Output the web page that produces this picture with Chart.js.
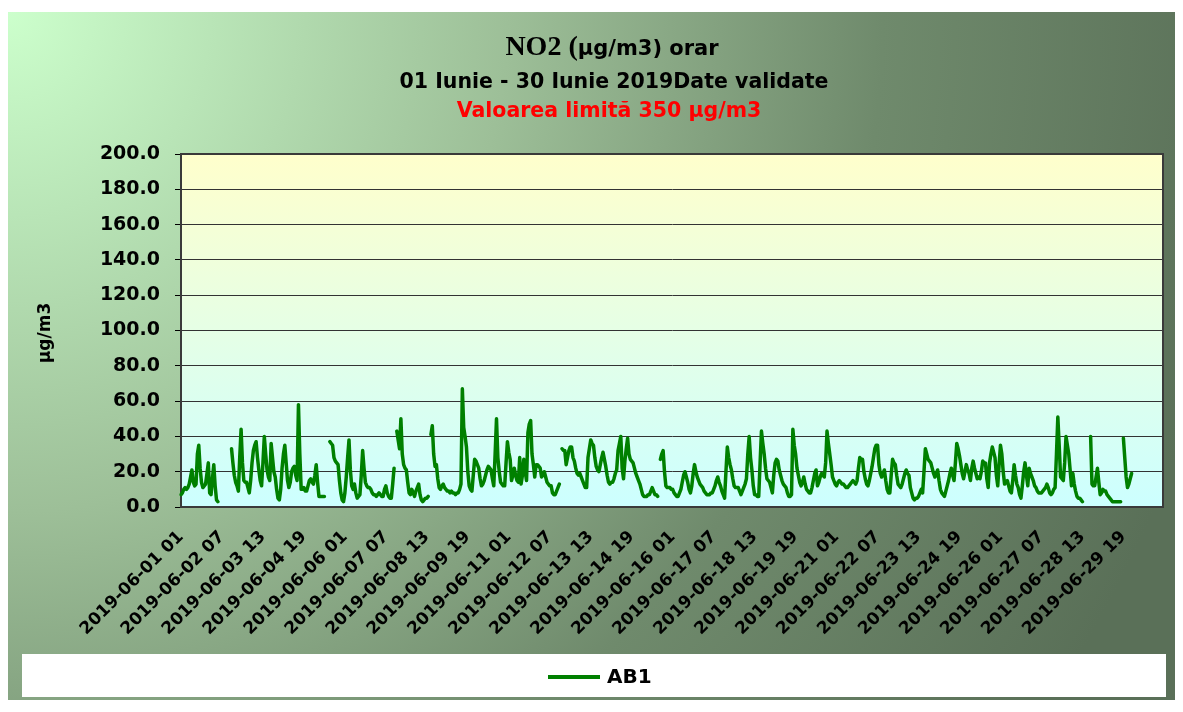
<!DOCTYPE html>
<html>
<head>
<meta charset="utf-8">
<script src="https://cdn.jsdelivr.net/npm/chart.js@4.4.0/dist/chart.umd.min.js"></script>
<style>
html, body { margin: 0; padding: 0; background: #fff; }
#chart { display: block; }
</style>
</head>
<body>
<canvas id="chart" width="1183" height="712"></canvas>
<script>
// hourly labels, 01..24 for every day of June 2019
var labels = [];
for (var d = 1; d <= 30; d++) {
    for (var h = 1; h <= 24; h++) {
        labels.push('2019-06-' + String(d).padStart(2, '0') + ' ' + String(h).padStart(2, '0'));
    }
}
var tickEvery = 30;
var yTicks = [0, 20, 40, 60, 80, 100, 120, 140, 160, 180, 200];

// NO2 hourly values, station AB1 (one row per day)
var ab1 = [
    7, 8, 10, 11, 10, 11, 13, 17, 21, 14, 12, 13, 30, 35, 22, 14, 11, 12, 13, 19, 25, 8, 7, 16,
    24, 12, 4, 3, null, null, null, null, null, null, null, null, null, 33, 25, 18, 14, 12, 9, 28, 44, 25, 15, 14,
    14, 11, 8, 15, 25, 32, 35, 37, 28, 21, 15, 12, 25, 40, 30, 21, 17, 15, 36, 28, 20, 17, 10, 5,
    4, 10, 22, 30, 35, 25, 15, 11, 14, 20, 22, 23, 18, 15, 58, 30, 10, 10, 11, 9, 9, 12, 15, 16,
    14, 13, 18, 24, 14, 6, 6, 6, 6, 6, null, null, null, 37, 36, 35, 28, 26, 25, 24, 15, 8, 4, 3,
    8, 17, 28, 38, 21, 12, 10, 13, 8, 5, 6, 7, 18, 32, 22, 14, 12, 11, 11, 10, 8, 7, 7, 6,
    7, 8, 7, 6, 6, 10, 12, 8, 6, 5, 5, 13, 22, null, 43, 38, 33, 50, 30, 24, 22, 21, 14, 8,
    7, 10, 8, 6, 9, 11, 13, 7, 4, 3, 4, 5, 5, 6, null, 41, 46, 30, 23, 24, 16, 11, 10, 12,
    13, 11, 10, 9, 9, 8, 9, 8, 8, 7, 8, 8, 10, 13, 67, 45, 40, 34, 20, 12, 10, 9, 18, 27,
    26, 24, 22, 16, 12, 13, 15, 18, 21, 23, 22, 21, 16, 12, 30, 50, 28, 20, 14, 13, 12, 12, 25, 37,
    31, 27, 15, 18, 22, 18, 15, 14, 28, 13, 18, 27, 20, 15, 42, 47, 49, 30, 24, 17, 24, 24, 23, 22,
    17, 18, 20, 17, 14, 13, 12, 12, 8, 7, 7, 9, 11, 13, null, 33, 32, 32, 24, 28, 32, 34, 34, 28,
    26, 22, 19, 18, 19, 17, 15, 13, 11, 11, 28, 33, 38, 36, 35, 28, 23, 21, 20, 24, 28, 31, 27, 23,
    18, 14, 13, 14, 14, 16, 19, 21, 32, 36, 40, 22, 16, 26, 33, 39, 30, 27, 26, 25, 22, 19, 17, 15,
    13, 10, 7, 6, 6, 6, 7, 7, 9, 11, 9, 7, 7, 6, null, 27, 30, 32, 20, 12, 11, 11, 11, 10,
    10, 8, 7, 6, 6, 8, 10, 14, 18, 20, 17, 14, 10, 8, 12, 19, 24, 20, 17, 15, 13, 12, 11, 9,
    8, 7, 7, 7, 8, 8, 10, 12, 15, 17, 14, 12, 9, 7, 5, 20, 34, 28, 24, 21, 16, 12, 11, 11,
    11, 9, 7, 9, 11, 13, 16, 30, 40, 28, 21, 12, 7, 7, 6, 6, 25, 43, 36, 30, 22, 16, 15, 14,
    11, 8, 18, 25, 27, 26, 21, 18, 15, 13, 12, 11, 8, 6, 6, 7, 44, 35, 30, 22, 18, 14, 12, 14,
    17, 13, 10, 9, 8, 8, 11, 15, 19, 21, 12, 14, 17, 19, 18, 17, 25, 43, 36, 30, 24, 17, 15, 13,
    12, 14, 15, 14, 13, 13, 12, 11, 11, 12, 13, 14, 15, 14, 13, 15, 22, 28, 27, 27, 20, 16, 13, 12,
    15, 19, 23, 28, 33, 35, 35, 24, 19, 17, 19, 21, 15, 10, 8, 8, 18, 27, 25, 24, 18, 13, 12, 11,
    13, 16, 19, 21, 19, 18, 11, 8, 5, 4, 5, 5, 6, 8, 10, 8, 20, 33, 30, 27, 26, 25, 22, 19,
    17, 19, 21, 15, 10, 8, 7, 6, 9, 12, 15, 19, 22, 18, 15, 25, 36, 33, 29, 24, 19, 16, 20, 24,
    21, 19, 15, 22, 26, 22, 19, 16, 17, 16, 20, 26, 25, 25, 16, 11, 25, 30, 34, 31, 28, 18, 12, 24,
    35, 30, 20, 13, 14, 15, 12, 9, 8, 15, 24, 18, 13, 11, 7, 5, 12, 20, 25, 18, 12, 22, 19, 17,
    15, 12, 11, 9, 8, 8, 8, 9, 10, 11, 13, 11, 8, 7, 8, 10, 11, 30, 51, 35, 17, 16, 15, 25,
    40, 35, 30, 21, 12, 19, 13, 9, 6, 5, 5, 4, 3, null, null, null, null, null, 40, 13, 12, 12, 17, 22,
    14, 7, 8, 10, 9, 9, 7, 6, 5, 4, 3, 3, 3, 3, 3, 3, 3, null, 39, 28, 17, 11, 13, 16,
    19, null, null, null, null, null, null, null, null, null, null, null, null, null, null, null, null, null, null, null, null, null, null, null
];

var sans = '"DejaVu Sans", "Liberation Sans", Arial, sans-serif';
var serif = '"Liberation Serif", "Times New Roman", serif';

var framePlugin = {
    id: 'frame',
    beforeDraw: function (chart) {
        var ctx = chart.ctx;
        var a = chart.chartArea;
        ctx.save();
        ctx.fillStyle = '#ffffff';
        ctx.fillRect(0, 0, chart.width, chart.height);
        // outer area, light green corner fading to dark grey green
        var g = ctx.createRadialGradient(8, 12, 0, 8, 12, 1250);
        g.addColorStop(0, '#ccffcc');
        g.addColorStop(0.4, '#9dbf98');
        g.addColorStop(0.7, '#6f8a6c');
        g.addColorStop(1, '#5a7058');
        ctx.fillStyle = g;
        ctx.fillRect(8, 12, 1167, 688);
        // plot area: yellow at the top, cyan at the bottom
        var p = ctx.createLinearGradient(0, a.top, 0, a.bottom);
        p.addColorStop(0, '#ffffcc');
        p.addColorStop(1, '#ccffff');
        ctx.fillStyle = p;
        ctx.fillRect(a.left, a.top, a.right - a.left, a.bottom - a.top);
        ctx.restore();
    },
    beforeDatasetsDraw: function (chart) {
        var ctx = chart.ctx;
        var a = chart.chartArea;
        ctx.save();
        ctx.strokeStyle = '#3a3a3a';
        ctx.lineWidth = 2;
        ctx.strokeRect(a.left, a.top, a.right - a.left, a.bottom - a.top);
        ctx.restore();
    },
    afterDraw: function (chart) {
        var ctx = chart.ctx;
        ctx.save();
        // title, line 1 in two fonts
        var t1 = 'NO2 (';
        var t2 = 'µg/m3) orar';
        ctx.textBaseline = 'alphabetic';
        ctx.font = 'bold 28px ' + serif;
        var w1 = ctx.measureText(t1).width;
        ctx.font = 'bold 21px ' + sans;
        var w2 = ctx.measureText(t2).width;
        var x0 = 612 - (w1 + w2) / 2;
        ctx.fillStyle = '#000000';
        ctx.textAlign = 'left';
        ctx.font = 'bold 28px ' + serif;
        ctx.fillText(t1, x0, 55);
        ctx.font = 'bold 21px ' + sans;
        ctx.fillText(t2, x0 + w1, 55);
        ctx.textAlign = 'center';
        ctx.font = 'bold 20.5px ' + sans;
        ctx.fillText('01 Iunie - 30 Iunie 2019Date validate', 614, 88);
        ctx.fillStyle = '#ff0000';
        ctx.fillText('Valoarea limită 350 µg/m3', 609, 117);

        // y axis title
        ctx.fillStyle = '#000000';
        ctx.font = 'bold 17px ' + sans;
        ctx.translate(46, 333);
        ctx.rotate(-Math.PI / 2);
        ctx.textBaseline = 'middle';
        ctx.fillText('µg/m3', 0, 0);
        ctx.setTransform(1, 0, 0, 1, 0, 0);

        // legend box
        ctx.fillStyle = '#ffffff';
        ctx.fillRect(22, 654, 1144, 43);
        ctx.strokeStyle = '#008000';
        ctx.lineWidth = 4;
        ctx.beginPath();
        ctx.moveTo(548, 677);
        ctx.lineTo(600, 677);
        ctx.stroke();
        ctx.fillStyle = '#000000';
        ctx.textAlign = 'left';
        ctx.textBaseline = 'middle';
        ctx.font = 'bold 20px ' + sans;
        ctx.fillText('AB1', 607, 678);
        ctx.restore();
    }
};

var ctx = document.getElementById('chart');
var myChart = new Chart(ctx, {
    type: 'line',
    data: {
        labels: labels,
        datasets: [{
            label: 'AB1',
            data: ab1,
            borderColor: '#008000',
            borderWidth: 3.5,
            pointRadius: 0,
            tension: 0,
            spanGaps: false,
            borderJoinStyle: 'round',
            borderCapStyle: 'round'
        }]
    },
    options: {
        responsive: false,
        animation: false,
        devicePixelRatio: 1,
        layout: { padding: { left: 0, top: 154, right: 20, bottom: 0 } },
        plugins: {
            legend: { display: false },
            title: { display: false },
            tooltip: { enabled: false }
        },
        scales: {
            x: {
                type: 'category',
                offset: false,
                grid: { display: false, drawTicks: false },
                border: { display: false },
                ticks: {
                    autoSkip: false,
                    minRotation: 45,
                    maxRotation: 45,
                    padding: 20,
                    color: '#000000',
                    font: { family: sans, size: 17, weight: 'bold' },
                    callback: function (v, i) { return i % tickEvery === 0 ? labels[i] : ''; }
                },
                afterFit: function (scale) {
                    scale.height = 205;
                    scale.paddingLeft = 0;
                    scale.paddingRight = 0;
                }
            },
            y: {
                min: yTicks[0],
                max: yTicks[yTicks.length - 1],
                grid: { color: '#333333', lineWidth: 1, tickLength: 6, tickColor: '#000000' },
                border: { display: true, color: '#000000', width: 2 },
                ticks: {
                    stepSize: 20,
                    padding: 15,
                    color: '#000000',
                    font: { family: sans, size: 19, weight: 'bold' },
                    callback: function (v) { return v.toFixed(1); }
                },
                afterFit: function (scale) {
                    scale.width = 181;
                    scale.paddingTop = 0;
                    scale.paddingBottom = 0;
                }
            }
        }
    },
    plugins: [framePlugin]
});
</script>
</body>
</html>
